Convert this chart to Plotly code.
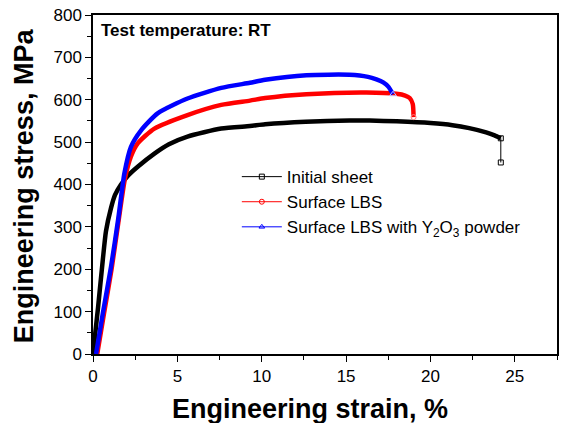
import plotly.graph_objects as go

# Initial sheet
init_strain = [0, 0.3, 0.58, 0.77, 1.07, 1.3, 1.66, 2.1, 2.65, 3.64, 4.5, 5.6, 7.6, 9.3, 10.2, 12.6, 15.2, 16.4, 18.0, 20.0, 21.3, 22.3, 23.3, 23.8, 24.17]
init_stress = [0, 110, 222, 290, 345, 375, 400, 422, 442, 473, 495, 513, 532, 538, 542, 548, 551, 551, 549, 545, 540, 533, 523, 516, 509]
init_drop_strain = [24.17, 24.17]
init_drop_stress = [509, 452]

# Surface LBS
lbs_strain = [0.25, 0.65, 1.1, 1.5, 1.9, 2.25, 2.65, 3.64, 5.6, 7.6, 9.3, 10.2, 12.65, 16.2, 17.98, 18.5, 18.77, 18.95, 19.0]
lbs_stress = [0, 95, 200, 310, 415, 466, 497, 532, 564, 588, 598, 604, 613, 617, 614, 610, 604, 590, 559]

# Surface LBS with Y2O3 powder
y2o3_strain = [0.18, 0.6, 1.07, 1.5, 1.86, 2.25, 2.85, 3.83, 5.6, 7.6, 9.3, 10.2, 12.65, 15.2, 16.3, 16.8, 17.2, 17.5, 17.78]
y2o3_stress = [0, 100, 206, 320, 426, 489, 528, 568, 603, 628, 640, 647, 658, 659, 654, 648, 641, 631, 613]

x_ticks = [0, 5, 10, 15, 20, 25]
y_ticks = [0, 100, 200, 300, 400, 500, 600, 700, 800]

fig = go.Figure()

LW = 4.5
fig.add_trace(go.Scatter(x=init_strain, y=init_stress, mode="lines",
                         line=dict(color="black", width=LW, shape="spline", smoothing=0.6),
                         showlegend=False, hoverinfo="skip"))
fig.add_trace(go.Scatter(x=lbs_strain, y=lbs_stress, mode="lines",
                         line=dict(color="red", width=LW, shape="spline", smoothing=0.6),
                         showlegend=False, hoverinfo="skip"))
fig.add_trace(go.Scatter(x=y2o3_strain, y=y2o3_stress, mode="lines",
                         line=dict(color="blue", width=LW, shape="spline", smoothing=0.6),
                         showlegend=False, hoverinfo="skip"))

fig.add_trace(go.Scatter(x=init_drop_strain, y=init_drop_stress, mode="lines+markers",
                         line=dict(color="black", width=1),
                         marker=dict(symbol="square-open", size=5, color="black", line=dict(width=1)),
                         showlegend=False, hoverinfo="skip"))
fig.add_trace(go.Scatter(x=lbs_strain[-1:], y=lbs_stress[-1:], mode="markers",
                         marker=dict(symbol="circle-open", size=5, color="#ff8080", line=dict(width=1)),
                         showlegend=False, hoverinfo="skip"))
fig.add_trace(go.Scatter(x=y2o3_strain[-1:], y=y2o3_stress[-1:], mode="markers",
                         marker=dict(symbol="triangle-up-open", size=6, color="#c0c0ff", line=dict(width=1)),
                         showlegend=False, hoverinfo="skip"))

names = ["Initial sheet", "Surface LBS", "Surface LBS with Y<sub>2</sub>O<sub>3</sub> powder"]
colors = ["black", "red", "blue"]
symbols = ["square-open", "circle-open", "triangle-up-open"]
for n, c, s in zip(names, colors, symbols):
    fig.add_trace(go.Scatter(x=[None], y=[None], mode="lines+markers", name=n,
                             line=dict(color=c, width=1),
                             marker=dict(symbol=s, size=5, color=c, line=dict(width=1))))

fig.add_annotation(x=0.013, y=0.953, xref="paper", yref="paper", xanchor="left", yanchor="middle",
                   text="<b>Test temperature: RT</b>", showarrow=False,
                   font=dict(family="Arial, Liberation Sans", size=17, color="black"))

# axis titles as annotations (positioned like the reference)
fig.add_annotation(x=0.468, y=-0.161, xref="paper", yref="paper", xanchor="center", yanchor="middle",
                   text="<b>Engineering strain, %</b>", showarrow=False,
                   font=dict(family="Arial, Liberation Sans", size=27, color="black"))
fig.add_annotation(x=-0.148, y=0.496, xref="paper", yref="paper", xanchor="center", yanchor="middle",
                   text="<b>Engineering stress, MPa</b>", showarrow=False, textangle=-90,
                   font=dict(family="Arial, Liberation Sans", size=27, color="black"))

axis_common = dict(showgrid=False, zeroline=False, showline=True, linecolor="black", linewidth=1.5,
                   mirror=True, ticks="outside", ticklen=6, tickwidth=1.2, tickcolor="black",
                   automargin=False,
                   tickfont=dict(family="Arial, Liberation Sans", size=17, color="black"))

fig.update_layout(
    width=566, height=423,
    margin=dict(l=93, r=9, t=15, b=69),
    paper_bgcolor="white", plot_bgcolor="white",
    font=dict(family="Arial, Liberation Sans", color="black"),
    xaxis=dict(range=[0, 27.5], tickvals=x_ticks,
               minor=dict(dtick=2.5, tick0=0, ticks="outside", ticklen=4, tickcolor="black"),
               **axis_common),
    yaxis=dict(range=[0, 800], tickvals=y_ticks,
               minor=dict(dtick=50, tick0=0, ticks="outside", ticklen=4, tickcolor="black"),
               **axis_common),
    legend=dict(x=0.31, y=0.575, xanchor="left", yanchor="top", bgcolor="rgba(0,0,0,0)",
                font=dict(family="Arial, Liberation Sans", size=17, color="black"),
                tracegroupgap=0, itemsizing="trace", itemwidth=40),
)

fig.write_html("out.html", config={"displayModeBar": False},
               post_script="document.body.style.margin='0';")
